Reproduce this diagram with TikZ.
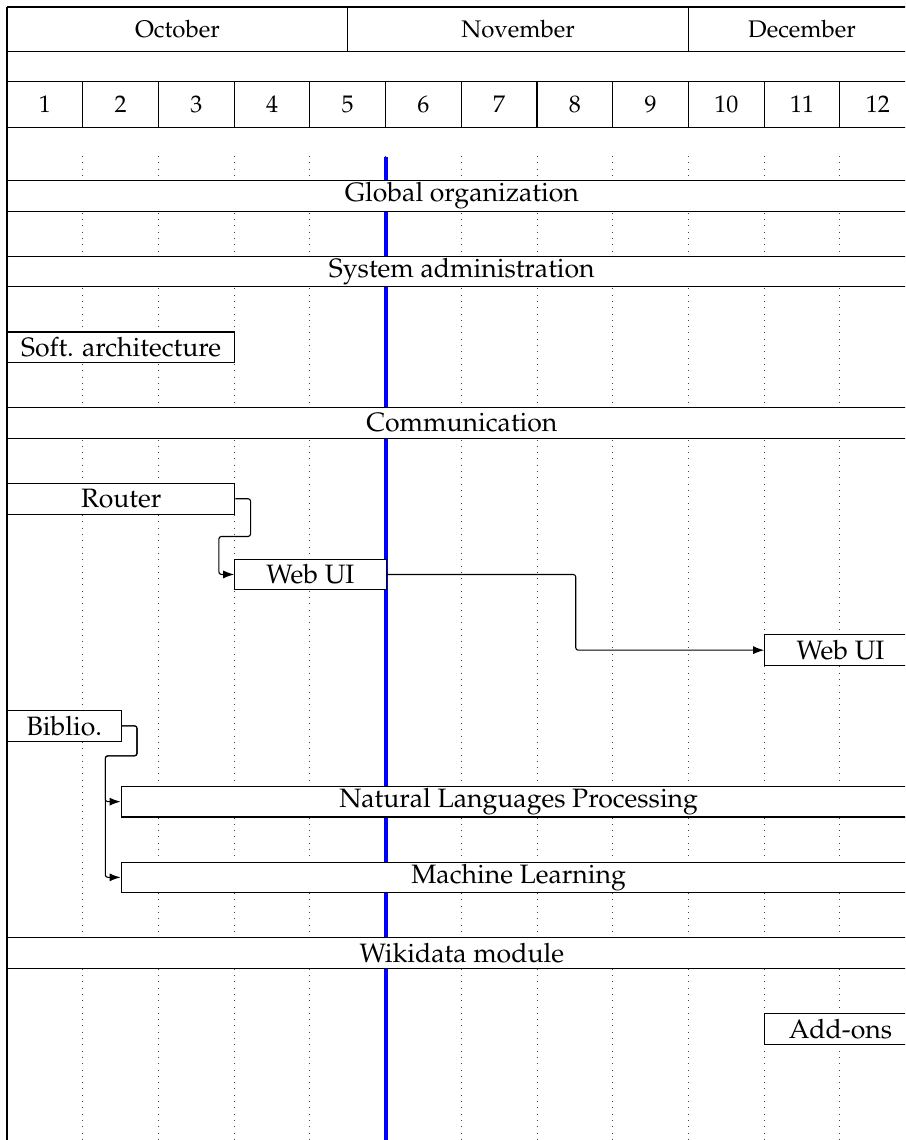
\documentclass[tikz,border=0pt]{standalone}
\usepackage[T1]{fontenc}
\usepackage{mathpazo}
\usetikzlibrary{arrows.meta,calc}
\begin{document}
\begin{tikzpicture}[x=1pt,y=-1pt,
  bar/.style={draw=black, line width=1.1pt, fill=white, inner sep=0pt,
    minimum height=30.6pt, anchor=north west, font=\fontsize{26.6}{31}\selectfont},
  hdr/.style={inner sep=0pt, font=\fontsize{24}{29}\selectfont},
  hline/.style={line width=1.1pt, black},
  gridline/.style={line width=0.9pt, black!75, dash pattern=on 0.9pt off 5.4pt},
  today/.style={blue, line width=4pt},
  link/.style={line width=1.1pt, rounded corners=2.5pt, -{Latex[length=11pt,width=8pt]}}]
\useasboundingbox (0,0) rectangle (905,1140);
\clip (0,0) rectangle (905,1140);
% header
\draw[hline] (7,7) -- (915.6,7);
\draw[hline] (7,51.7) -- (915.6,51.7);
\draw[hline] (7,81.7) -- (915.6,81.7);
\draw[hline] (7,127.3) -- (915.6,127.3);
\draw[hline] (7,7) -- (7,1140);
\draw[hline] (347.7,7) -- (347.7,51.7);
\draw[hline] (688.5,7) -- (688.5,51.7);
\foreach \k in {1,...,11} \draw[hline] ({7+75.72*\k},81.7) -- ({7+75.72*\k},127.3);
\node[hdr] (oct) at (177.4,29.4) {October};
\node[hdr] (nov) at (518.1,29.4) {November};
\node[hdr] (dec) at (802.0,29.4) {December};
\foreach \i in {1,...,12} \node[hdr] (d\i) at ({7+75.72*\i-37.86},104.5) {\i};
% grid
\foreach \k in {1,...,11} \draw[gridline] ({7+75.72*\k},156) -- ({7+75.72*\k},1140);
% today line
\draw[today] (385.6,157) -- (385.6,1140);
% bars
\node[bar, minimum width=908.6pt] (global) at (7,180) {Global organization};
\node[bar, minimum width=908.6pt] (sysadmin) at (7,255.7) {System administration};
\node[bar, minimum width=227.2pt] (softarch) at (7,331.4) {Soft. architecture};
\node[bar, minimum width=908.6pt] (comm) at (7,407.2) {Communication};
\node[bar, minimum width=227.2pt] (router) at (7,482.9) {Router};
\node[bar, minimum width=151.4pt] (webui) at (234.2,558.6) {Web UI};
\node[bar, minimum width=151.4pt] (webuib) at (764.2,634.3) {Web UI};
\node[bar, minimum width=113.6pt] (biblio) at (7,710.0) {Biblio.};
\node[bar, minimum width=795pt] (nlp) at (120.6,785.8) {Natural Languages Processing};
\node[bar, minimum width=795pt] (ml) at (120.6,861.5) {Machine Learning};
\node[bar, minimum width=908.6pt] (wiki) at (7,937.2) {Wikidata module};
\node[bar, minimum width=151.4pt] (addons) at (764.2,1012.9) {Add-ons};
% links
\draw[link] (router.east) -- ++(15.3,0) -- ++(0,37.7) -| ([xshift=-15.3pt]webui.west) -- (webui.west);
\draw[link] (webui.east) -- ++(189,0) |- (webuib.west);
\draw[link] (biblio.east) -- ++(15.3,0) -- ++(0,30) -| ([xshift=-15.3pt]nlp.west) -- (nlp.west);
\draw[link] (biblio.east) -- ++(15.3,0) -- ++(0,30) -| ([xshift=-15.3pt]ml.west) -- (ml.west);
\end{tikzpicture}
\end{document}
